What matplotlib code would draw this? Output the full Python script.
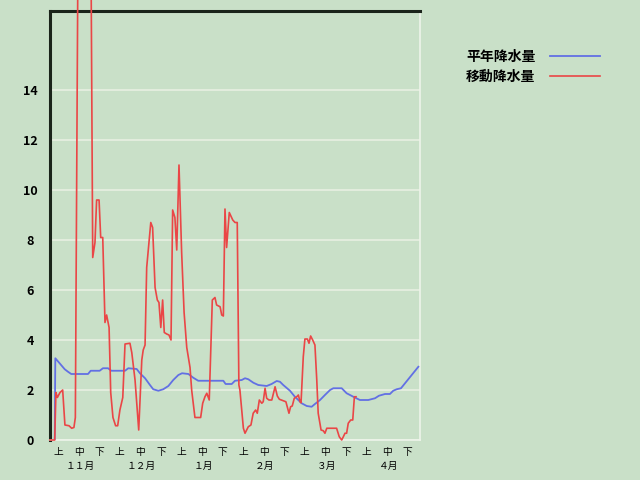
import matplotlib
matplotlib.use("Agg")
import matplotlib.pyplot as plt

# ---------------- data (day index 0 = 1 Nov) ----------------
normal_days = [2.3, 2.6, 4.7, 7.2, 8.8, 10.4, 18.6, 19.9, 24.3, 25.9, 28.4, 30.0, 36.7, 38.3,
               42.4, 44.0, 46.5, 48.9, 50.5, 53.0, 55.4, 57.9, 60.3, 62.8, 64.6, 67.7, 70.1,
               72.5, 84.8, 85.9, 88.9, 90.5, 93.8, 95.4, 97.0, 99.5, 101.9, 106.0, 108.4,
               110.9, 112.5, 114.1, 117.4, 119.8, 123.1, 125.6, 128.0, 129.6, 132.1, 134.5,
               137.0, 138.6, 142.7, 145.1, 148.4, 151.6, 155.7, 159.0, 160.9, 163.9, 166.3,
               167.9, 169.6, 171.7, 180.2]
normal_vals = [0.0, 3.27, 3.07, 2.83, 2.73, 2.64, 2.64, 2.77, 2.77, 2.87, 2.87, 2.77, 2.77, 2.87,
               2.84, 2.67, 2.47, 2.2, 2.03, 1.97, 2.03, 2.16, 2.4, 2.6, 2.67, 2.64, 2.49,
               2.37, 2.37, 2.24, 2.24, 2.37, 2.4, 2.47, 2.43, 2.29, 2.2, 2.16, 2.24,
               2.36, 2.33, 2.2, 1.97, 1.73, 1.47, 1.36, 1.33, 1.44, 1.6, 1.8,
               2.0, 2.07, 2.07, 1.87, 1.73, 1.6, 1.6, 1.67, 1.77, 1.84, 1.84,
               1.97, 2.03, 2.07, 2.93]

moving_days = [0.0, 2.3, 2.9, 3.6, 4.9, 6.2, 7.3, 9.3, 10.6, 11.7, 12.4, 14.4, 19.3, 20.9,
               22.0, 22.8, 24.0, 24.8, 25.8, 26.9, 27.7, 28.9, 29.7, 30.8, 32.1, 33.1, 34.2,
               35.6, 36.7, 39.1, 40.0, 41.6, 43.4, 44.9, 45.6, 46.5, 47.3, 49.3, 50.2, 51.4,
               52.5, 53.3, 54.2, 55.1, 55.9, 57.1, 58.2, 59.2, 60.0, 61.1, 62.0, 63.1, 64.4,
               65.6, 66.9, 68.5, 69.3, 70.9, 73.7, 74.7, 75.8, 76.7, 77.9, 78.6, 79.4, 80.7,
               81.5, 83.2, 84.0, 84.8, 85.6, 86.4, 87.7, 89.4, 90.5, 91.6, 92.4, 92.9, 94.6,
               95.4, 97.0, 98.3, 99.4, 100.6, 101.4, 102.4, 103.6, 104.3, 105.2, 106.0, 107.1,
               108.5, 110.1, 111.2, 112.2, 114.1, 115.4, 116.9, 117.7, 118.5, 119.5, 120.7,
               121.5, 122.3, 122.8, 123.9, 124.7, 125.9, 126.7, 127.5, 128.5, 129.6, 130.5,
               131.2, 132.6, 133.7, 134.5, 135.4, 140.2, 141.5, 142.7, 143.5, 144.3, 145.1,
               145.9, 147.1, 148.1, 148.9, 149.7]
moving_vals = [0.0, 0.0, 1.9, 1.7, 1.9, 2.0, 0.6, 0.57, 0.47, 0.5, 0.9, 30.0, 30.0, 7.3,
               7.9, 9.6, 9.6, 8.1, 8.1, 4.7, 5.0, 4.5, 1.9, 0.9, 0.57, 0.57, 1.2,
               1.7, 3.84, 3.87, 3.5, 2.4, 0.4, 3.2, 3.6, 3.8, 6.9, 8.7, 8.5, 6.1,
               5.6, 5.5, 4.5, 5.6, 4.3, 4.24, 4.2, 4.0, 9.2, 8.9, 7.6, 11.0, 7.5,
               5.1, 3.7, 2.9, 2.0, 0.9, 0.9, 1.47, 1.73, 1.87, 1.6, 3.47, 5.6, 5.7,
               5.4, 5.33, 5.0, 4.96, 9.24, 7.7, 9.1, 8.8, 8.7, 8.7, 2.2, 2.0, 0.47,
               0.27, 0.53, 0.6, 1.07, 1.2, 1.07, 1.6, 1.47, 1.53, 2.07, 1.67, 1.6,
               1.6, 2.13, 1.76, 1.63, 1.57, 1.53, 1.07, 1.33, 1.36, 1.67, 1.73,
               1.8, 1.53, 1.49, 3.33, 4.04, 4.04, 3.87, 4.16, 4.0, 3.8, 2.4,
               1.07, 0.4, 0.37, 0.27, 0.47, 0.47, 0.13, 0.0, 0.13, 0.27, 0.27,
               0.67, 0.8, 0.8, 1.73, 1.73]

months = ["１１月", "１２月", "１月", "２月", "３月", "４月"]
dekads = ["上", "中", "下"]
y_ticks = [0, 2, 4, 6, 8, 10, 12, 14]
series_labels = ["平年降水量", "移動降水量"]

# ---------------- style ----------------
BG = "#c9e0c8"
GRID = "#e8efe2"
BLUE = "#6270e4"
RED = "#ea4646"
CJK = ["Noto Sans CJK JP", "DejaVu Sans"]

plt.rcParams["font.family"] = CJK

fig = plt.figure(figsize=(6.4, 4.8), dpi=100, facecolor=BG)
ax = fig.add_axes([50 / 640, 40 / 480, 370 / 640, 429 / 480], facecolor=BG)

n_days = 181
ax.set_xlim(0, n_days)
ax.set_ylim(0, 429 / 25)

ax.set_yticks(y_ticks)
ax.set_yticklabels([str(v) for v in y_ticks], fontsize=9, fontweight="bold", ha="center")
ax.tick_params(axis="y", length=0, pad=14.4)
ax.grid(axis="y", color=GRID, lw=1.2)
ax.set_axisbelow(True)

step = n_days / (len(months) * len(dekads))
xt = [4.0 + i * step for i in range(len(months) * len(dekads))]
ax.set_xticks(xt)
ax.set_xticklabels(dekads * len(months), fontsize=7, va="center")
ax.tick_params(axis="x", length=0, pad=8.6)
for i, m in enumerate(months):
    ax.annotate(m, xy=(xt[i * 3 + 1] + 0.6, 0), xycoords=("data", "axes fraction"),
                xytext=(0, -18.7), textcoords="offset points",
                ha="center", va="center", fontsize=7)

for side in ("left", "top"):
    ax.spines[side].set_color("#1a241a")
    ax.spines[side].set_linewidth(2.2)
for side in ("right", "bottom"):
    ax.spines[side].set_color("#eef4ea")
    ax.spines[side].set_linewidth(1.2)

l1, = ax.plot(normal_days, normal_vals, color=BLUE, lw=1.3, zorder=3)
l2, = ax.plot(moving_days, moving_vals, color=RED, lw=1.2, zorder=4, clip_on=False)

fig.legend([l1, l2], series_labels, loc="upper left",
           bbox_to_anchor=(466 / 640, 1 - 50 / 480), bbox_transform=fig.transFigure,
           frameon=False, markerfirst=False, borderpad=0, borderaxespad=0,
           handlelength=3.6, handletextpad=1.08, labelspacing=0.43,
           prop={"family": CJK, "weight": "bold", "size": 10})

fig.savefig("out.png", dpi=100, facecolor=BG)
